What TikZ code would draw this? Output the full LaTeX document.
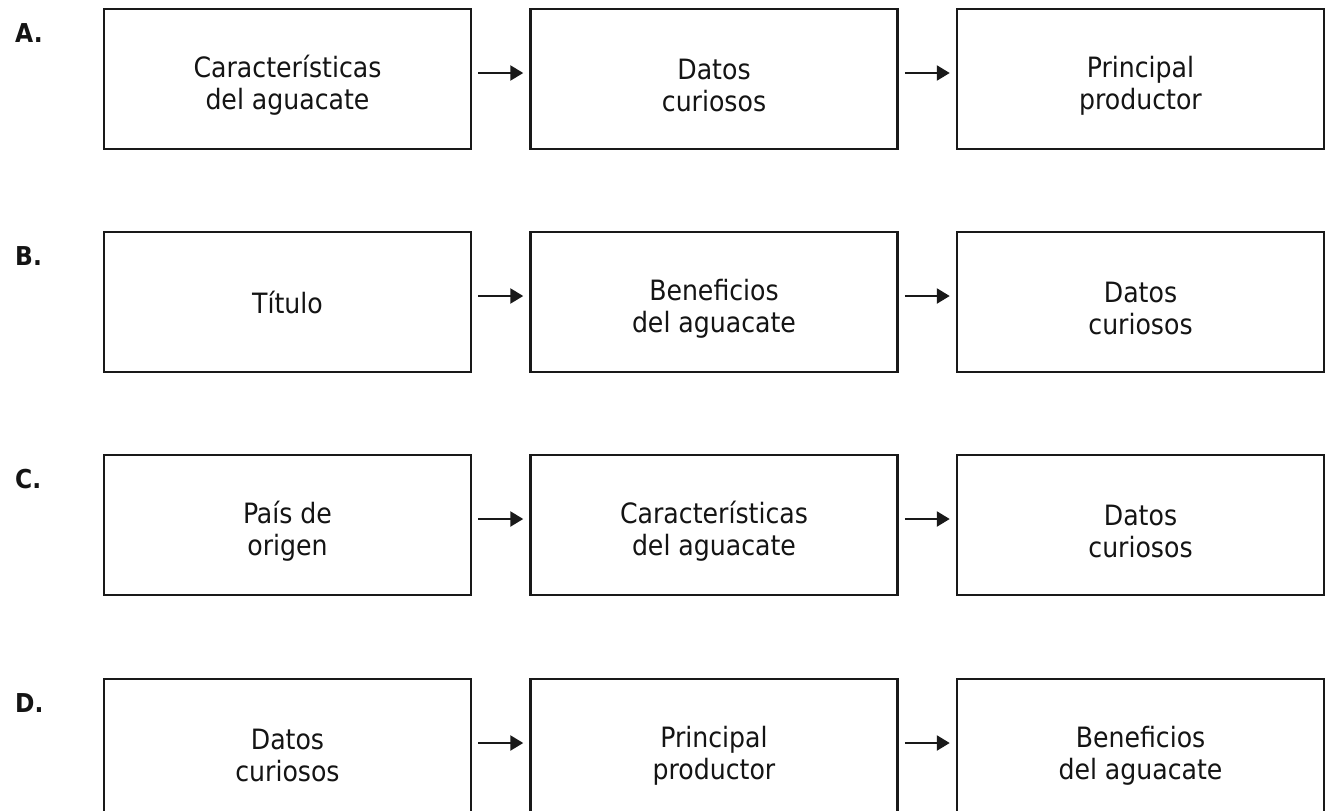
\documentclass[tikz,border=0pt]{standalone}
\usepackage{fontspec}
\setmainfont{DejaVu Sans Condensed}
\usetikzlibrary{arrows.meta}
\newcommand\toppad{\rule{0pt}{34pt}}
\tikzset{
  box/.style={draw=black!90, line width=2.5pt, minimum width=367pt, minimum height=140pt, inner sep=0pt, align=center, font=\fontsize{28}{32}\selectfont, text=black!92},
  lab/.style={anchor=west, inner sep=0pt, font=\fontsize{26}{30}\selectfont\bfseries, text=black!92},
  conn/.style={draw=black!90, line width=2.5pt, -{Triangle[length=13pt,width=15pt]}, shorten >=6pt, shorten <=6pt}
}
\begin{document}
\begin{tikzpicture}[x=1pt,y=-1pt]
\clip (0,0) rectangle (1325,811);
\fill[white] (0,0) rectangle (1325,811);
% row A
\node[lab] (la) at (15,33) {A.};
\node[box] (a1) at (287.5,79) {\toppad Características\\del aguacate};
\node[box] (a2) at (714,79) {\toppad Datos\\curiosos};
\node[box] (a3) at (1140.5,79) {\toppad Principal\\productor};
\draw[conn] (a1.east |- 0,73) -- (a2.west |- 0,73);
\draw[conn] (a2.east |- 0,73) -- (a3.west |- 0,73);
% row B
\node[lab] (lb) at (15,256) {B.};
\node[box] (b1) at (287.5,302) {Título};
\node[box] (b2) at (714,302) {\toppad Beneficios\\del aguacate};
\node[box] (b3) at (1140.5,302) {\toppad Datos\\curiosos};
\draw[conn] (b1.east |- 0,296) -- (b2.west |- 0,296);
\draw[conn] (b2.east |- 0,296) -- (b3.west |- 0,296);
% row C
\node[lab] (lc) at (15,479) {C.};
\node[box] (c1) at (287.5,525) {\toppad País de\\origen};
\node[box] (c2) at (714,525) {\toppad Características\\del aguacate};
\node[box] (c3) at (1140.5,525) {\toppad Datos\\curiosos};
\draw[conn] (c1.east |- 0,519) -- (c2.west |- 0,519);
\draw[conn] (c2.east |- 0,519) -- (c3.west |- 0,519);
% row D
\node[lab] (ld) at (15,703) {D.};
\node[box] (d1) at (287.5,749) {\toppad Datos\\curiosos};
\node[box] (d2) at (714,749) {\toppad Principal\\productor};
\node[box] (d3) at (1140.5,749) {\toppad Beneficios\\del aguacate};
\draw[conn] (d1.east |- 0,743) -- (d2.west |- 0,743);
\draw[conn] (d2.east |- 0,743) -- (d3.west |- 0,743);
\end{tikzpicture}
\end{document}
